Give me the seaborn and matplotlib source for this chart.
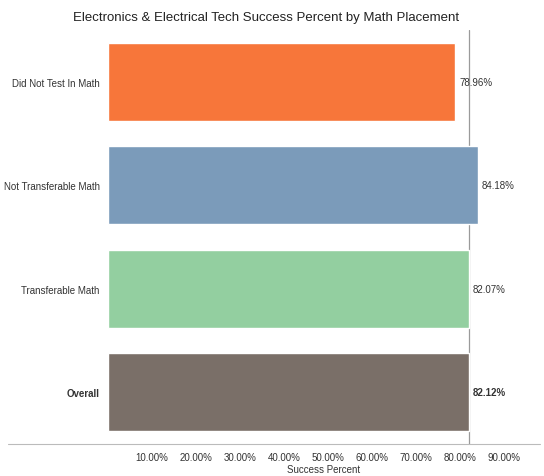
import matplotlib
matplotlib.use("Agg")
import matplotlib.pyplot as plt
import seaborn as sns
import pandas as pd
from matplotlib.lines import Line2D

categories = ["Did Not Test In Math", "Not Transferable Math", "Transferable Math", "Overall"]
success = [78.96, 84.18, 82.07, 82.12]
value_labels = ["78.96%", "84.18%", "82.07%", "82.12%"]
tick_values = [10, 20, 30, 40, 50, 60, 70, 80, 90]
tick_labels = ["10.00%", "20.00%", "30.00%", "40.00%", "50.00%", "60.00%", "70.00%", "80.00%", "90.00%"]
colors = ["#F7763A", "#7B9BBA", "#93CFA0", "#7A6F68"]
reference_value = 82.12

df = pd.DataFrame({"Category": categories, "Success": success})

sns.set_theme(style="white")
plt.rcParams["font.family"] = ["Liberation Sans", "DejaVu Sans"]

fig = plt.figure(figsize=(5.44, 4.77), dpi=100)
W, H = 544, 477
ax = fig.add_axes([108 / W, (H - 445) / H, (540 - 108) / W, 414 / H])

sns.barplot(data=df, y="Category", x="Success", hue="Category", palette=colors,
            order=categories, hue_order=categories, legend=False, width=0.75,
            orient="h", ax=ax, saturation=1)

ax.set_xlim(0, 432 / 4.396)
ax.set_ylim(3.5, -0.5)
ax.axvline(reference_value, color="#9a9a9a", lw=0.9, zorder=0.5)

for s in ax.spines.values():
    s.set_visible(False)

ax.set_xticks(tick_values)
ax.set_xticklabels(tick_labels, fontsize=7, color="#333333")
ax.tick_params(axis="x", length=0, pad=6)
ax.set_yticks(range(len(categories)))
ax.set_yticklabels(categories, fontsize=7, color="#333333")
ax.get_yticklabels()[-1].set_fontweight("bold")
ax.tick_params(axis="y", length=0, pad=6)
ax.set_ylabel("")
ax.set_xlabel("Success Percent", fontsize=7, color="#333333", labelpad=1)

for i, (v, lab) in enumerate(zip(success, value_labels)):
    ax.text(v + 0.9, i, lab, va="center", ha="left", fontsize=7, color="#333333",
            fontweight="bold" if i == len(success) - 1 else "normal")

fig.add_artist(Line2D([8 / W, 540 / W], [(H - 445) / H, (H - 445) / H],
                      color="#bbbbbb", lw=0.8, transform=fig.transFigure))

fig.text(266 / W, 1 - 18 / H, "Electronics & Electrical Tech Success Percent by Math Placement",
         ha="center", va="center", fontsize=9.5, color="#222222")

fig.savefig("out.png", dpi=100, facecolor="white")
